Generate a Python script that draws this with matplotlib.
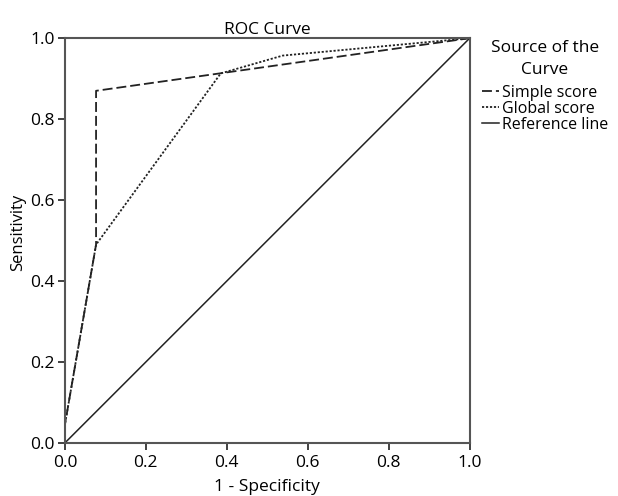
import numpy as np
import matplotlib
matplotlib.use("Agg")
from matplotlib import pyplot as plt

plt.rcParams['font.family'] = ['Open Sans', 'DejaVu Sans']

# ROC points
simple_fpr = [0.0, 0.0, 0.077, 0.077, 1.0]
simple_tpr = [0.0, 0.045, 0.49, 0.87, 1.0]

global_fpr = [0.0, 0.0, 0.077, 0.385, 0.538, 1.0]
global_tpr = [0.0, 0.045, 0.49, 0.913, 0.957, 1.0]

ref_x = [0.0, 1.0]
ref_y = [0.0, 1.0]

ticks = [0.0, 0.2, 0.4, 0.6, 0.8, 1.0]
tick_labels = ["0.0", "0.2", "0.4", "0.6", "0.8", "1.0"]

fig = plt.figure(figsize=(6.18, 4.96), dpi=100)
ax = fig.add_axes([0.105, 0.107, 0.655, 0.816])

ax.plot(simple_fpr, simple_tpr, color="#222222", lw=1.3,
        linestyle=(0, (5.5, 2.2)), label="Simple score")
ax.plot(global_fpr, global_tpr, color="#222222", lw=1.3,
        linestyle=(0, (1.2, 1.0)), label="Global score")
ax.plot(ref_x, ref_y, color="#222222", lw=1.1, label="Reference line")

ax.set_xlim(0, 1)
ax.set_ylim(0, 1)
ax.set_xticks(ticks)
ax.set_xticklabels(tick_labels)
ax.set_yticks(ticks)
ax.set_yticklabels(tick_labels)
ax.tick_params(direction="out", length=5, width=1.3, color="#333333",
               labelsize=12.5)
ax.tick_params(axis="x", pad=4)
ax.tick_params(axis="y", pad=2.5)

for s in ax.spines.values():
    s.set_color("#555555")
    s.set_linewidth(1.5)

ax.set_title("ROC Curve", fontsize=12.5, pad=1)
ax.set_xlabel("1 - Specificity", fontsize=12.5)
ax.xaxis.set_label_coords(0.5, -0.09)
ax.set_ylabel("Sensitivity", fontsize=12)
ax.yaxis.set_label_coords(-0.095, 0.52)

leg = ax.legend(title="Source of the\nCurve", loc="upper left",
                bbox_to_anchor=(1.03, 0.995), frameon=False, fontsize=11.5,
                title_fontsize=12.5, handlelength=1.1, handletextpad=0.15,
                labelspacing=0.0, borderaxespad=0.0, borderpad=0.0)
leg.get_title().set_multialignment("center")
leg.get_title().set_linespacing(1.45)
# small gap between the two-line title and the entries
leg._legend_box.sep = 5

fig.savefig("out.png", dpi=100)
